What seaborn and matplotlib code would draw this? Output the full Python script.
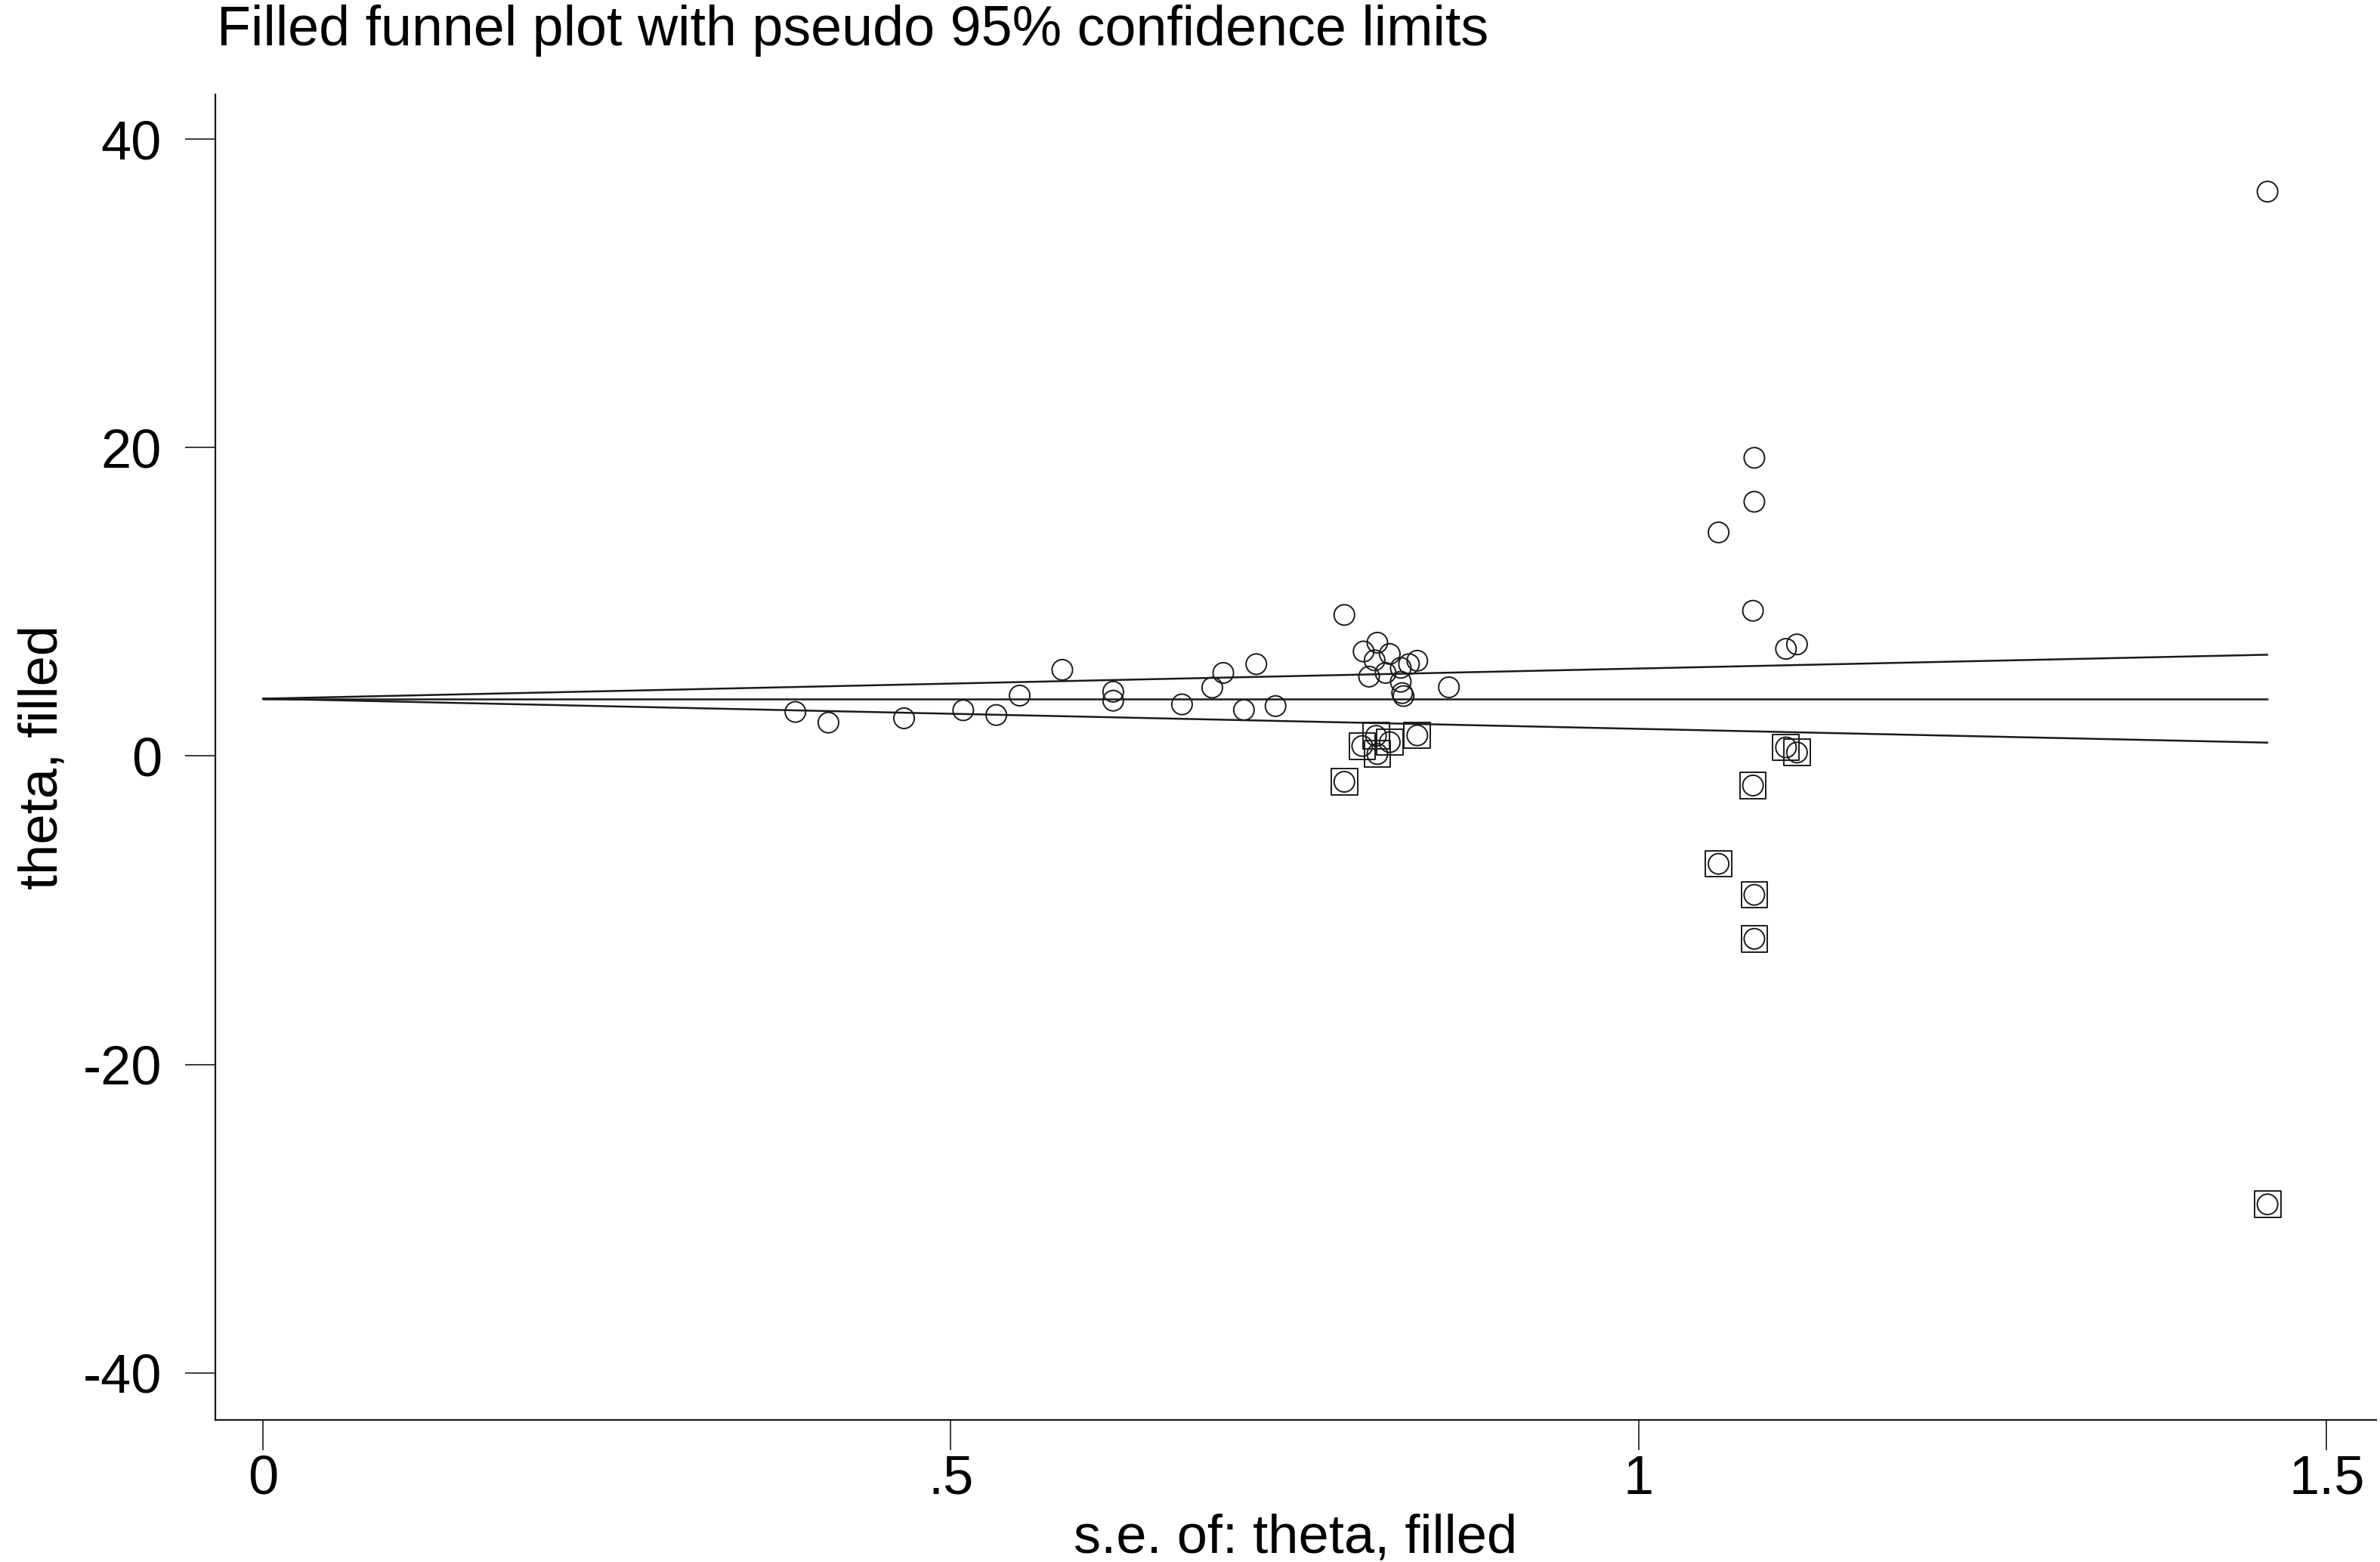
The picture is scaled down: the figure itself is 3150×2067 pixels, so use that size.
import matplotlib
matplotlib.use("Agg")
import matplotlib.pyplot as plt
import seaborn as sns
import pandas as pd

# ---- data ----
se_observed = [0.387, 0.411, 0.466, 0.509, 0.533, 0.550, 0.581, 0.618, 0.618,
               0.668, 0.690, 0.698, 0.713, 0.722, 0.736, 0.786, 0.800, 0.810,
               0.819, 0.808, 0.804, 0.816, 0.827, 0.833, 0.839, 0.827, 0.828,
               0.829, 0.862, 1.058, 1.083, 1.084, 1.084, 1.107, 1.115, 1.457]
theta_observed = [2.86, 2.17, 2.45, 2.97, 2.66, 3.92, 5.59, 4.17, 3.59,
                  3.35, 4.44, 5.39, 2.99, 5.96, 3.24, 9.15, 6.78, 7.35,
                  6.62, 6.21, 5.15, 5.39, 5.72, 5.96, 6.18, 4.82, 4.08,
                  3.89, 4.46, 14.50, 9.42, 16.49, 19.34, 6.95, 7.24, 36.6]

se_filled = [0.786, 0.799, 0.809, 0.810, 0.819, 0.839, 1.058, 1.083, 1.084,
             1.084, 1.107, 1.115, 1.457]
theta_filled = [-1.67, 0.65, 1.31, 0.13, 0.90, 1.34, -6.99, -1.91, -9.00,
                -11.85, 0.56, 0.23, -29.07]

# funnel (pooled estimate and pseudo 95% limits) end points
funnel_se = [0.0, 1.457]
funnel_center = [3.72, 3.72]
funnel_upper = [3.72, 6.57]
funnel_lower = [3.72, 0.87]

x_ticks = [0, 0.5, 1, 1.5]
x_ticklabels = ["0", ".5", "1", "1.5"]
y_ticks = [-40, -20, 0, 20, 40]
y_ticklabels = ["-40", "-20", "0", "20", "40"]

title = "Filled funnel plot with pseudo 95% confidence limits"
x_label = "s.e. of: theta, filled"
y_label = "theta, filled"

# ---- plotting ----
sns.set_theme(style="white")
plt.rcParams["font.family"] = ["Liberation Sans", "DejaVu Sans"]

W, H = 3150, 2067
fig = plt.figure(figsize=(W / 100, H / 100), dpi=100)
ax = fig.add_axes([285 / W, 1 - 1879 / H, (3145 - 285) / W, (1879 - 125) / H])

ink = "#1a1a1a"

df_obs = pd.DataFrame({"se": se_observed, "theta": theta_observed})
df_fill = pd.DataFrame({"se": se_filled, "theta": theta_filled})
df_funnel = pd.DataFrame({"se": funnel_se, "center": funnel_center,
                          "upper": funnel_upper, "lower": funnel_lower})

for col in ["upper", "center", "lower"]:
    sns.lineplot(data=df_funnel, x="se", y=col, ax=ax, color=ink,
                 linewidth=1.8, zorder=2)

sns.scatterplot(data=df_obs, x="se", y="theta", ax=ax, marker="o",
                s=19.5 ** 2, facecolor="none", edgecolor=ink, linewidth=1.4,
                zorder=3)
sns.scatterplot(data=df_fill, x="se", y="theta", ax=ax, marker="o",
                s=19.5 ** 2, facecolor="none", edgecolor=ink, linewidth=1.4,
                zorder=3)
sns.scatterplot(data=df_fill, x="se", y="theta", ax=ax, marker="s",
                s=25 ** 2, facecolor="none", edgecolor=ink, linewidth=1.4,
                zorder=3)

ax.set_xlim(-0.0346, 1.536)
ax.set_ylim(-43.05, 42.9)
ax.set_xticks(x_ticks)
ax.set_xticklabels(x_ticklabels)
ax.set_yticks(y_ticks)
ax.set_yticklabels(y_ticklabels)

for side in ["top", "right"]:
    ax.spines[side].set_visible(False)
for side in ["left", "bottom"]:
    ax.spines[side].set_color(ink)
    ax.spines[side].set_linewidth(1.6)

ax.tick_params(axis="both", which="major", direction="out", length=29,
               width=1.2, color=ink, labelsize=52, labelcolor="black",
               left=True, bottom=True)
ax.tick_params(axis="y", pad=22)
ax.tick_params(axis="x", pad=4)

ax.set_xlabel(x_label, fontsize=52, color="black", labelpad=8)
ax.set_ylabel(y_label, fontsize=52, color="black", labelpad=14)

fig.text(287 / W, 1 - 60 / H, title, fontsize=53, color="black",
         ha="left", va="baseline")

fig.savefig("out.png", dpi=100, facecolor="white")
